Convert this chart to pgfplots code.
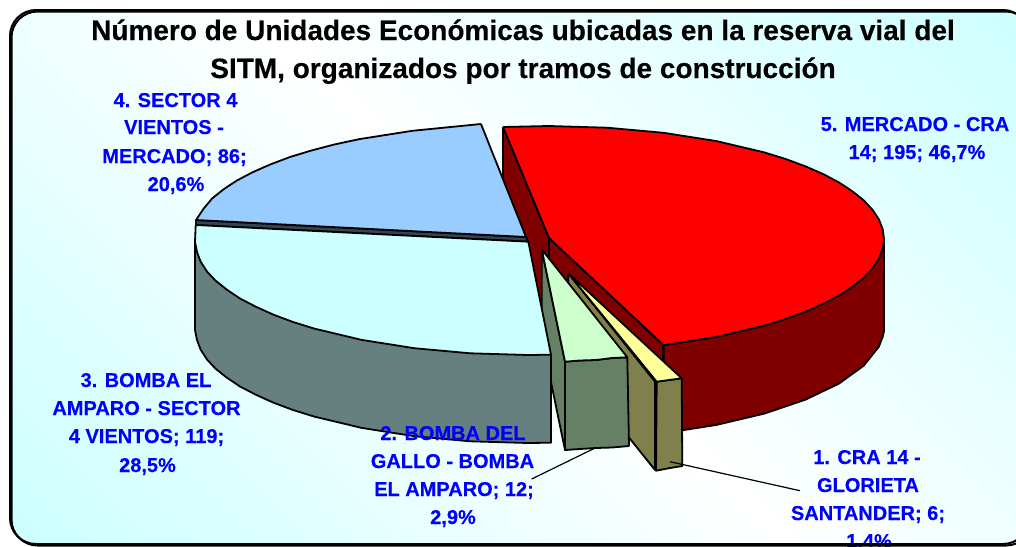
\documentclass[border=0pt]{standalone}
\usepackage{fontspec}
\setmainfont{Liberation Sans}[BoldFeatures={FakeBold=0.25}]
\usepackage{pgfplots}
\pgfplotsset{compat=1.18}
\definecolor{bgc}{HTML}{CCFFFF}
\definecolor{redtop}{HTML}{FF0000}
\definecolor{redside}{HTML}{800000}
\definecolor{bluetop}{HTML}{99CCFF}
\definecolor{blueside}{HTML}{334455}
\definecolor{cyantop}{HTML}{CCFFFF}
\definecolor{cyanside}{HTML}{668080}
\definecolor{greentop}{HTML}{CCFFCC}
\definecolor{greenside}{HTML}{668066}
\definecolor{yellowtop}{HTML}{FFFF99}
\definecolor{yellowside}{HTML}{80804D}
\pgfdeclareverticalshading{diagbg}{100bp}{color(0bp)=(bgc); color(14.6bp)=(bgc); color(50bp)=(white); color(85.4bp)=(bgc); color(100bp)=(bgc)}
\newcommand{\lab}[3]{\node[anchor=base,text=blue,inner sep=0pt,font=\fontsize{20}{24}\selectfont\bfseries] at (axis cs:#1,#2) {#3};}
\newcommand{\ttl}[3]{\node[anchor=base,text=black,inner sep=0pt,font=\fontsize{28}{32}\selectfont\bfseries] at (axis cs:#1,#2) {#3};}
\begin{document}
\begin{tikzpicture}
\begin{axis}[
  hide axis, scale only axis, width=1016pt, height=546pt,
  xmin=0, xmax=1016, ymin=0, ymax=546, y dir=reverse,
  clip=true,
  every axis plot/.append style={no markers, forget plot, line join=round, line width=1.8pt, draw=black},
]
\fill[white] (axis cs:0,0) rectangle (axis cs:1016,546);
\shade[shading=diagbg, shading angle=-45, rounded corners=26pt] (axis cs:10,10) rectangle (axis cs:1029,544);

% red slice: inner walls and outer wall
\addplot[fill=redside] coordinates {(503,127) (549,238) (549,328) (503,215) (503,127)};
\addplot[fill=redside] coordinates {(549,238) (663,345) (663,433) (549,328) (549,238)};
\addplot[fill=redside] coordinates {(663.6,345.2) (716.5,336.9) (764.3,325.6) (805.6,311.6) (839.1,295.5) (863.8,277.6) (878.9,258.6) (882.7,248.8) (884,239) (884,331) (882.7,336.8) (878.9,346.6) (863.8,365.6) (839.1,383.5) (805.6,399.6) (764.3,413.6) (716.5,424.9) (663.6,433.2) (663.6,345.2)};
\addplot[fill=redtop] coordinates {(503,127) (549,126) (607,127.7) (663.6,132.8) (716.5,141.1) (764.3,152.4) (785.7,159) (805.6,166.4) (823.4,174.2) (839.1,182.5) (852.4,191.3) (863.8,200.4) (872.6,209.9) (878.9,219.4) (882.7,229.2) (884,239) (882.7,248.8) (878.9,258.6) (872.6,268.1) (863.8,277.6) (852.4,286.7) (839.1,295.5) (823.4,303.8) (805.6,311.6) (785.7,319) (764.3,325.6) (716.5,336.9) (663.6,345.2) (549,238) (503,127)};

% yellow inner wall
\addplot[fill=yellowside] coordinates {(568.3,273.3) (655,381.7) (655,470) (568.3,361.7) (568.3,273.3)};
% green inner wall
\addplot[fill=greenside] coordinates {(541.7,249.3) (565,361.7) (565,450) (541.7,337) (541.7,249.3)};

% blue slice
\addplot[fill=blueside] coordinates {(196,220) (526,237) (528.3,241.7) (196,225) (196,220)};
\addplot[fill=bluetop] coordinates {(481,124) (412.4,130.8) (359.5,139.1) (334.7,144.4) (311.7,150.4) (290,157) (270.4,164.4) (252.7,172.2) (236.9,180.5) (223.6,189.3) (212.2,198.4) (203.4,208.9) (196,220) (526,237) (481,124)};

% cyan slice
\addplot[fill=cyanside] coordinates {(195,242) (195,330) (197,340) (200.6,349.6) (207,359.5) (215.5,368.6) (227,377.8) (240,386.5) (256,394.8) (273.3,402.6) (293,410) (314.3,416.6) (361.7,427.9) (414.3,436.2) (470.3,441.3) (528,443) (551,442.7) (551,354.7) (195,242)};
\addplot[fill=cyantop] coordinates {(195.7,225) (195,242) (197,252) (200.6,261.6) (207,271.5) (215.5,280.6) (227,289.8) (240,298.5) (256,306.8) (273.3,314.6) (293,322) (314.3,328.6) (361.7,339.9) (414.3,348.2) (470.3,353.3) (528,355) (551,354.7) (528.3,241.7) (195.7,225)};

% green slice
\addplot[fill=greenside] coordinates {(565,361.7) (580,360.5) (596,360) (612,358) (627.3,357.3) (629,446) (612,447.5) (596,448) (580,449) (565,450) (565,361.7)};
\addplot[fill=greentop] coordinates {(541.7,249.3) (627.3,357.3) (612,358) (596,360) (580,360.5) (565,361.7) (541.7,249.3)};

% yellow slice
\addplot[fill=yellowside] coordinates {(656.7,381.7) (681.7,378.3) (682.3,466) (670,468) (656,470.7) (656.7,381.7)};
\addplot[fill=yellowtop] coordinates {(568.3,273.3) (681.7,378.3) (669,380) (656.7,381.7) (568.3,273.3)};

% leader lines
\addplot[line width=1.2pt] coordinates {(595,448) (531.7,479)};
\addplot[line width=1.2pt] coordinates {(670,461.7) (800,490.7)};

% title
\ttl{523}{40}{Número de Unidades Económicas ubicadas en la reserva vial del}
\ttl{523}{78}{SITM, organizados por tramos de construcción}

% labels
\lab{175.5}{107}{4. SECTOR 4}
\lab{174}{134}{VIENTOS -}
\lab{174.5}{163}{MERCADO; 86;}
\lab{176}{191}{20,6\%}
\lab{915}{131}{5. MERCADO - CRA}
\lab{917}{159}{14; 195; 46,7\%}
\lab{146}{387}{3. BOMBA EL}
\lab{146.5}{415}{AMPARO - SECTOR}
\lab{146.5}{443}{4 VIENTOS; 119;}
\lab{147.5}{472}{28,5\%}
\lab{453}{440}{2. BOMBA DEL}
\lab{452.5}{468}{GALLO - BOMBA}
\lab{454}{496}{EL AMPARO; 12;}
\lab{453}{524}{2,9\%}
\lab{867}{464}{1. CRA 14 -}
\lab{868}{492}{GLORIETA}
\lab{868}{520}{SANTANDER; 6;}
\lab{869}{548}{1,4\%}

% frame with its shadow
\draw[black, line width=2pt, rounded corners=26pt] (axis cs:11.5,11.5) rectangle (axis cs:1032,545.5);
\draw[black, line width=2pt, rounded corners=26pt] (axis cs:10,10) rectangle (axis cs:1029,544);
\end{axis}
\end{tikzpicture}
\end{document}
